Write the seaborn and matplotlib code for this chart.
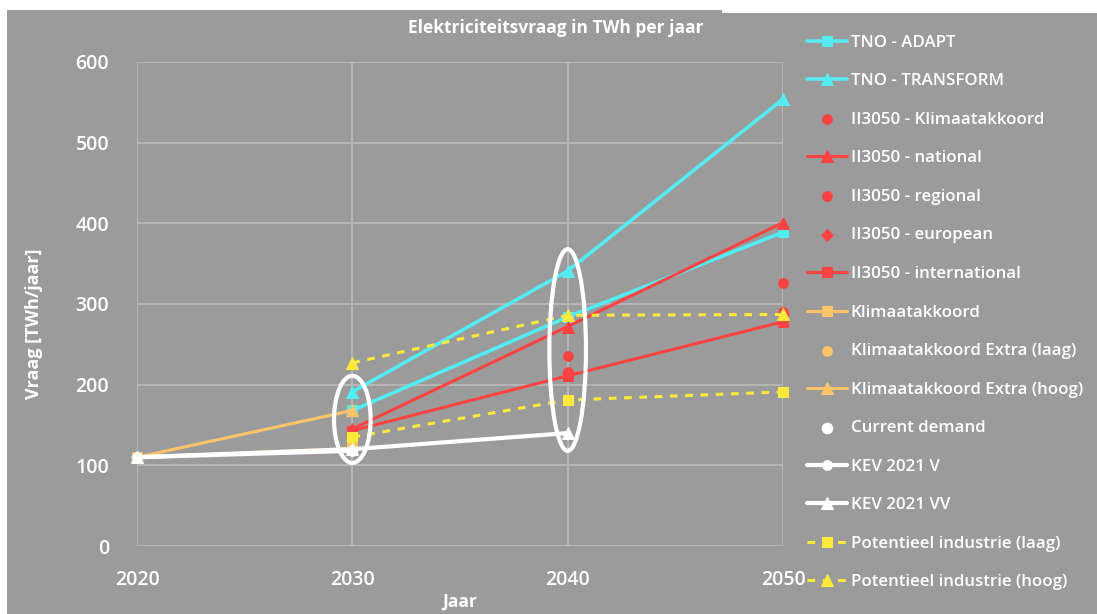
import matplotlib
matplotlib.use("Agg")
import matplotlib.pyplot as plt
from matplotlib.patches import Ellipse, Rectangle
import seaborn as sns
import pandas as pd

# ---- data ----
years_2030_2050 = [2030, 2040, 2050]
tno_adapt = [168, 284, 389]
tno_transform = [191, 341, 554]
ii3050_klimaatakkoord_years = [2040, 2050]
ii3050_klimaatakkoord = [216, 290]
ii3050_national = [145, 272, 401]
ii3050_regional_years = [2040, 2050]
ii3050_regional = [235, 326]
ii3050_european_years = [2040, 2050]
ii3050_european = [213, 287]
ii3050_international = [143, 211, 278]
years_2020_2030 = [2020, 2030]
klimaatakkoord = [110, 121]
klim_extra_laag_years = [2030]
klim_extra_laag = [125]
klim_extra_hoog = [110, 168]
current_demand_years = [2020]
current_demand = [110]
kev_v_years = [2020, 2030]
kev_v = [110, 118]
kev_vv_years = [2020, 2030, 2040]
kev_vv = [110, 120, 140]
pot_laag = [135, 181, 191]
pot_hoog = [227, 286, 287]

x_ticks = [2020, 2030, 2040, 2050]
y_ticks = [0, 100, 200, 300, 400, 500, 600]

title = "Elektriciteitsvraag in TWh per jaar"
xlabel = "Jaar"
ylabel = "Vraag [TWh/jaar]"

# ---- style ----
BG = "#9b9b9b"
GRID = "#b8b8b8"
CYAN = "#55ebf2"
RED = "#ff4343"
ORANGE = "#ffc36a"
YELLOW = "#ffe93a"
WHITE = "#ffffff"

sns.set_theme(style="white")
plt.rcParams["font.family"] = ["Open Sans", "DejaVu Sans"]

fig = plt.figure(figsize=(10.97, 6.14), dpi=100, facecolor="white")
# gray panel (chart area background)
fig.patches.append(Rectangle((7 / 1097, 0), 1 - 7 / 1097, 1 - 13 / 614,
                             transform=fig.transFigure, facecolor=BG,
                             edgecolor="none", zorder=-10))
fig.patches.append(Rectangle((7 / 1097, 1 - 13 / 614), 715 / 1097, 3 / 614,
                             transform=fig.transFigure, facecolor=BG,
                             edgecolor="none", zorder=-10))

ax = fig.add_axes([137 / 1097, 1 - 546 / 614, (783 - 137) / 1097, (546 - 62) / 614])
ax.set_facecolor(BG)


def line(xs, ys, label, color, marker, ls="-", ms=7, lw=2.2):
    df = pd.DataFrame({"x": xs, "y": ys})
    sns.lineplot(data=df, x="x", y="y", ax=ax, color=color, marker=marker,
                 markersize=ms, linewidth=lw, linestyle=ls, label=label,
                 markeredgecolor=color, clip_on=False)


def dots(xs, ys, label, color, marker="o", s=60):
    df = pd.DataFrame({"x": xs, "y": ys})
    sns.scatterplot(data=df, x="x", y="y", ax=ax, color=color, marker=marker,
                    s=s, edgecolor=color, linewidth=0, label=label, clip_on=False)


line(years_2030_2050, tno_adapt, "TNO - ADAPT", CYAN, "s", lw=2.6)
line(years_2030_2050, tno_transform, "TNO - TRANSFORM", CYAN, "^", ms=8, lw=2.6)
dots(ii3050_klimaatakkoord_years, ii3050_klimaatakkoord, "II3050 - Klimaatakkoord", RED)
line(years_2030_2050, ii3050_national, "II3050 - national", RED, "^", ms=8)
dots(ii3050_regional_years, ii3050_regional, "II3050 - regional", RED)
dots(ii3050_european_years, ii3050_european, "II3050 - european", RED, marker="D", s=45)
line(years_2030_2050, ii3050_international, "II3050 - international", RED, "s")
line(years_2020_2030, klimaatakkoord, "Klimaatakkoord", ORANGE, "s")
dots(klim_extra_laag_years, klim_extra_laag, "Klimaatakkoord Extra (laag)", ORANGE)
line(years_2020_2030, klim_extra_hoog, "Klimaatakkoord Extra (hoog)", ORANGE, "^", ms=8)
dots(current_demand_years, current_demand, "Current demand", WHITE, s=70)
line(kev_v_years, kev_v, "KEV 2021 V", WHITE, "o", lw=3)
line(kev_vv_years, kev_vv, "KEV 2021 VV", WHITE, "^", ms=9, lw=3)
line(years_2030_2050, pot_laag, "Potentieel industrie (laag)", YELLOW, "s", ls=(0, (2.5, 2.5)))
line(years_2030_2050, pot_hoog, "Potentieel industrie (hoog)", YELLOW, "^", ms=9, ls=(0, (2.5, 2.5)))

# annotation ellipses
ax.add_patch(Ellipse((2030, 157), 1.7, 108, fill=False, edgecolor=WHITE, linewidth=3, zorder=5))
ax.add_patch(Ellipse((2040, 243), 1.7, 250, fill=False, edgecolor=WHITE, linewidth=3, zorder=5))

ax.set_xlim(2020, 2050)
ax.set_ylim(0, 600)
ax.set_xticks(x_ticks)
ax.set_yticks(y_ticks)
ax.grid(True, color=GRID, linewidth=1.3)
for s in ax.spines.values():
    s.set_visible(False)
ax.tick_params(axis="both", length=0, colors=WHITE, labelsize=14)
ax.tick_params(axis="x", pad=17)
ax.tick_params(axis="y", pad=20)
for lab in ax.get_xticklabels() + ax.get_yticklabels():
    lab.set_fontweight("semibold")

ax.set_xlabel(xlabel, color=WHITE, fontsize=12.5, fontweight="bold", labelpad=2)
ax.set_ylabel(ylabel, color=WHITE, fontsize=13, fontweight="bold")
ax.yaxis.set_label_coords(-0.145, 0.46)
fig.text(556 / 1097, 1 - 28 / 614, title, color=WHITE, fontsize=12.5,
         fontweight="bold", ha="center", va="center")

handles, labels = ax.get_legend_handles_labels()
ax.get_legend().remove()
leg = fig.legend(handles, labels, loc="upper left",
                 bbox_to_anchor=(800 / 1097, 1 - 28 / 614),
                 frameon=False, fontsize=12.2, labelspacing=1.33,
                 handlelength=2.4, handletextpad=0.2, borderaxespad=0)
for t in leg.get_texts():
    t.set_color(WHITE)
    t.set_fontweight("semibold")

fig.savefig("out.png", dpi=100, facecolor=fig.get_facecolor())
